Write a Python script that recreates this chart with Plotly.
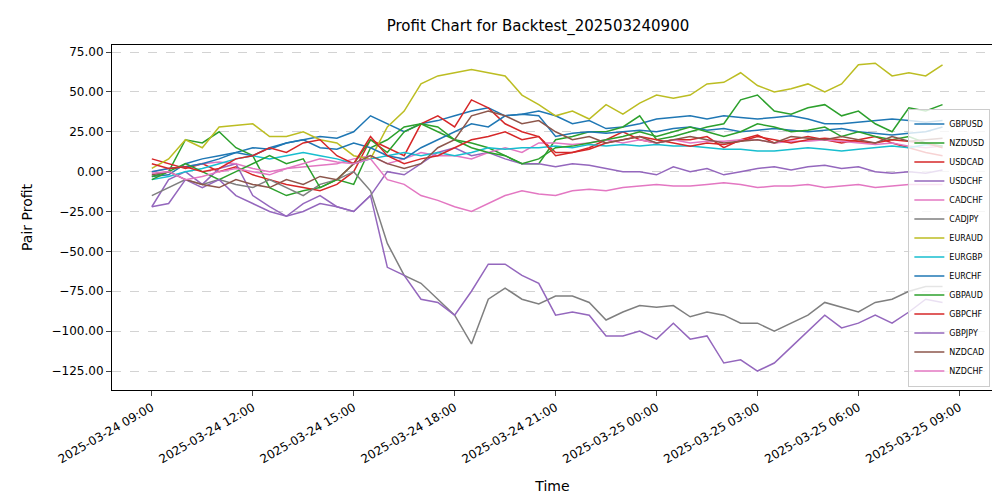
import plotly.graph_objects as go
import pandas as pd

times = pd.date_range("2025-03-24 09:00", periods=48, freq="30min")

GBPUSD = [-3,-2,5,8,10,12,15,14,18,20,22,21,25,35,30,25,30,32,35,38,40,35,36,38,35,30,32,27,28,30,33,34,35,33,35,34,33,34,35,33,30,30,31,32,33,32,31,32]
NZDUSD = [-3,0,20,18,25,15,10,-10,-15,-12,-10,-5,-8,15,20,28,30,25,20,18,15,10,5,5,20,22,25,25,28,35,20,22,25,28,30,45,48,38,36,40,42,35,38,30,25,40,38,42]
USDCAD = [8,5,2,5,0,3,-2,-5,-8,-10,-12,-8,0,20,15,10,30,35,28,45,40,30,25,22,12,12,15,20,25,20,18,20,20,22,15,20,23,18,20,22,20,18,20,22,18,15,12,10]
USDCHF = [-22,-5,0,-8,2,5,-15,-22,-28,-25,-20,-22,-25,-15,0,-2,5,12,15,10,12,8,5,5,3,5,4,2,0,0,-2,3,0,2,-2,0,2,3,1,3,4,2,3,0,-1,0,-1,1]
CADCHF = [0,2,3,5,6,5,2,0,2,3,4,5,8,10,5,8,12,10,10,8,12,15,12,18,18,17,18,20,18,20,18,20,18,19,19,20,20,18,19,19,20,19,18,17,18,16,15,16]
CADJPY = [-15,-10,-5,-8,-5,-8,-10,-5,-10,-15,-8,-5,0,-12,-45,-65,-70,-80,-90,-108,-80,-73,-80,-83,-78,-78,-82,-93,-88,-84,-85,-84,-91,-88,-90,-95,-95,-100,-95,-90,-82,-85,-88,-82,-80,-75,-72,-72]
EURAUD = [2,8,20,15,28,29,30,22,22,25,20,18,10,8,28,38,55,60,62,64,62,60,48,42,35,38,33,42,36,43,48,46,48,55,56,62,54,50,52,55,50,55,67,68,60,62,60,67]
EURGBP = [-5,-3,0,2,5,8,10,8,10,12,10,8,5,8,10,12,10,12,10,12,15,14,15,15,16,15,17,16,17,16,17,16,16,15,14,14,13,13,14,15,14,13,14,15,16,15,17,16]
EURCHF = [0,2,3,5,8,12,10,15,18,20,15,14,18,15,10,8,15,20,25,30,28,35,36,35,22,24,25,24,25,26,25,27,28,26,27,25,26,27,26,25,26,27,25,24,23,24,25,28]
GBPAUD = [-5,0,5,0,-5,0,5,10,5,8,-10,-5,5,20,12,25,30,28,20,15,12,10,5,8,15,16,18,20,22,25,22,25,28,25,22,25,30,28,25,26,28,22,25,22,20,22,18,16]
GBPCHF = [5,2,3,0,2,8,10,15,12,18,20,10,5,22,10,5,8,10,15,20,22,25,20,22,10,12,14,18,20,22,20,18,16,18,17,19,22,20,18,20,21,20,19,18,20,19,18,15]
GBPJPY = [-22,-20,-5,-10,-5,-15,-20,-25,-28,-20,-15,-22,-25,-15,-60,-65,-80,-82,-90,-75,-58,-58,-65,-70,-90,-88,-90,-103,-103,-100,-105,-95,-105,-103,-120,-118,-125,-120,-110,-100,-90,-98,-95,-90,-95,-88,-80,-82]
NZDCAD = [-2,0,-5,-8,-10,-5,-8,-10,-5,-8,-3,-5,5,10,5,2,5,15,20,35,38,35,30,32,25,20,22,18,20,22,18,20,22,20,18,19,20,18,22,21,20,22,20,18,22,19,20,21]
NZDCHF = [-1,0,-5,-3,0,2,0,-2,2,5,8,6,5,8,-5,-8,-15,-18,-22,-25,-20,-15,-12,-14,-15,-12,-11,-12,-10,-9,-8,-9,-9,-8,-7,-8,-10,-9,-9,-8,-10,-9,-8,-10,-9,-8,-8,-8]

names = ["GBPUSD","NZDUSD","USDCAD","USDCHF","CADCHF","CADJPY","EURAUD","EURGBP","EURCHF","GBPAUD","GBPCHF","GBPJPY","NZDCAD","NZDCHF"]
series = [GBPUSD,NZDUSD,USDCAD,USDCHF,CADCHF,CADJPY,EURAUD,EURGBP,EURCHF,GBPAUD,GBPCHF,GBPJPY,NZDCAD,NZDCHF]
colors = ["#1f77b4","#2ca02c","#d62728","#9467bd","#e377c2","#7f7f7f","#bcbd22","#17becf",
          "#1f77b4","#2ca02c","#d62728","#9467bd","#8c564b","#e377c2"]

fig = go.Figure()
for n, s, c in zip(names, series, colors):
    fig.add_trace(go.Scatter(x=times, y=s, mode="lines", name=n, line=dict(color=c, width=1.5)))

fig.update_layout(
    width=1000, height=500,
    paper_bgcolor="white", plot_bgcolor="white",
    margin=dict(l=104, r=15, t=37, b=118),
    font=dict(family="DejaVu Sans", size=12, color="black"),
    title=dict(text="Profit Chart for Backtest_202503240900", x=0.53, xanchor="center", y=0.975, font=dict(size=15)),
    legend=dict(x=0.997, y=0.01, xanchor="right", yanchor="bottom", bgcolor="rgba(255,255,255,0.8)",
                bordercolor="#ccc", borderwidth=1, font=dict(size=8), tracegroupgap=0, itemwidth=30),
)
fig.update_xaxes(
    title_text="Time", range=["2025-03-24 07:49", "2025-03-25 10:00"],
    tickvals=pd.date_range("2025-03-24 09:00", periods=9, freq="3h"),
    tickformat="%Y-%m-%d %H:%M", tickangle=-30, showgrid=False,
    showline=True, linecolor="black", mirror=True, ticks="outside",
)
fig.update_yaxes(
    title_text="Pair Profit", range=[-136.9, 79.4], dtick=25, tickformat=".2f",
    showgrid=True, gridcolor="#d3d3d3", griddash="dash", zeroline=False,
    showline=True, linecolor="black", mirror=True, ticks="outside",
)
fig.write_html("out.html")
